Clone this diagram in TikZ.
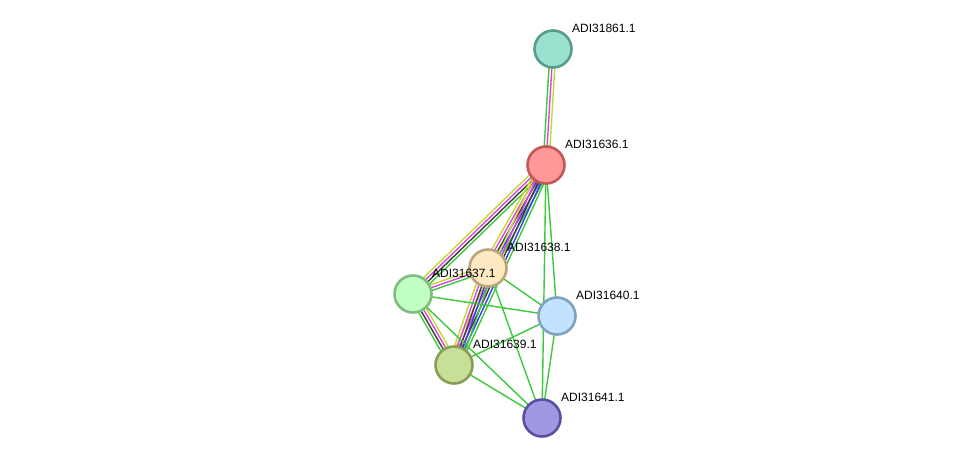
\documentclass[tikz,border=0pt]{standalone}
\usepackage{fontspec}
\setmainfont{Liberation Sans}
\usetikzlibrary{calc,backgrounds}
\definecolor{eg}{HTML}{3DC83D}
\definecolor{ey}{HTML}{C4D936}
\definecolor{em}{HTML}{D946D9}
\definecolor{ek}{HTML}{3C3C3C}
\definecolor{eb}{HTML}{3A3AF0}
\tikzset{
  prot/.style={circle, minimum size=37pt, inner sep=0pt, line width=2.6pt},
  lab/.style={anchor=base west, inner sep=0pt, font=\fontsize{12}{14}\selectfont, text=black},
}
\newcommand{\bund}[4]{%
  \foreach \col [count=\i] in {#4} {%
    \pgfmathsetmacro\off{(\i-(#3+1)/2)*2.9}%
    \draw[color=\col, line width=1.4pt] ($(#1.center)!\off pt!-90:(#2.center)$) -- ($(#2.center)!\off pt!90:(#1.center)$);
  }}
\begin{document}
\begin{tikzpicture}[x=1pt,y=-1pt]
\useasboundingbox (0,0) rectangle (976,464);
\node[prot, fill={rgb,255:red,155;green,225;blue,207}, draw={rgb,255:red,90;green,156;blue,139}] (n61) at (553,49) {};
\node[prot, fill={rgb,255:red,255;green,152;blue,152}, draw={rgb,255:red,192;green,88;blue,88}] (n36) at (546,165) {};
\node[prot, fill={rgb,255:red,254;green,233;blue,196}, draw={rgb,255:red,186;green,166;blue,120}] (n38) at (488,268) {};
\node[prot, fill={rgb,255:red,194;green,255;blue,194}, draw={rgb,255:red,128;green,187;blue,128}] (n37) at (413,294) {};
\node[prot, fill={rgb,255:red,194;green,226;blue,255}, draw={rgb,255:red,127;green,162;blue,192}] (n40) at (557,316) {};
\node[prot, fill={rgb,255:red,200;green,223;blue,152}, draw={rgb,255:red,136;green,158;blue,86}] (n39) at (454,365) {};
\node[prot, fill={rgb,255:red,160;green,152;blue,224}, draw={rgb,255:red,90;green,80;blue,160}] (n41) at (542,418) {};
\begin{pgfonlayer}{background}
\fill[white] (0,0) rectangle (976,464);
\bund{n61}{n36}{3}{ey,em,eg}
\bund{n36}{n37}{4}{eg,ek,em,ey}
\bund{n36}{n38}{5}{eg,eb,ek,em,ey}
\bund{n36}{n39}{5}{eg,eb,ek,em,ey}
\bund{n37}{n38}{3}{ey,em,eg}
\bund{n37}{n39}{4}{ey,em,ek,eg}
\bund{n38}{n39}{5}{eg,eb,ek,em,ey}
\foreach \a/\b in {n36/n40,n36/n41,n38/n40,n38/n41,n37/n40,n37/n41,n39/n40,n39/n41,n40/n41}
  \draw[eg, line width=1.4pt] (\a.center) -- (\b.center);
\end{pgfonlayer}
\node[lab] (l61) at ($(n61)+(19,-16.5)$) {ADI31861.1};
\node[lab] (l36) at ($(n36)+(19,-16.5)$) {ADI31636.1};
\node[lab] (l38) at ($(n38)+(19,-16.5)$) {ADI31638.1};
\node[lab] (l37) at ($(n37)+(19,-16.5)$) {ADI31637.1};
\node[lab] (l40) at ($(n40)+(19,-16.5)$) {ADI31640.1};
\node[lab] (l39) at ($(n39)+(19,-16.5)$) {ADI31639.1};
\node[lab] (l41) at ($(n41)+(19,-16.5)$) {ADI31641.1};
\end{tikzpicture}
\end{document}
